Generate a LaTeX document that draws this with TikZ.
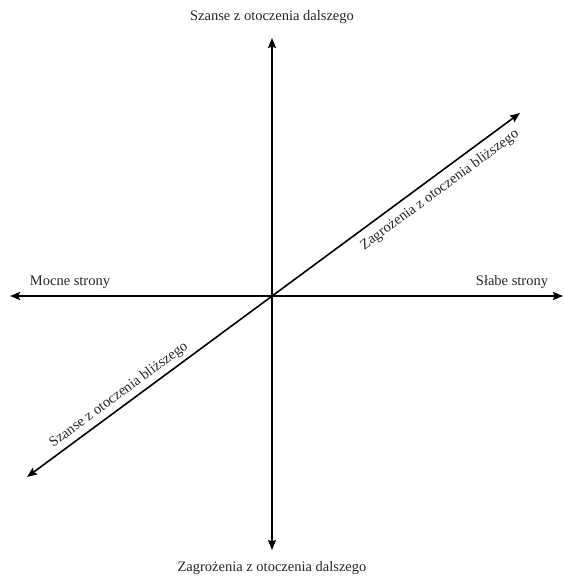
\documentclass[tikz,border=0pt]{standalone}
\usepackage{fontspec}
\setmainfont{Liberation Serif}
\usetikzlibrary{arrows.meta}
\tikzset{
  os/.style={line width=1.6pt, {Stealth[length=10pt,width=8pt,inset=1.5pt]}-{Stealth[length=10pt,width=8pt,inset=1.5pt]}},
  etykieta/.style={font=\fontsize{14.5}{17}\selectfont, text=black!85, inner sep=2pt}
}
\begin{document}
\begin{tikzpicture}[x=1pt, y=1pt]
    \useasboundingbox (-272,-282) rectangle (292,296);

    % końce osi
    \coordinate (O) at (0,0);
    \coordinate (gora) at (0,258);
    \coordinate (dol) at (0,-254);
    \coordinate (lewo) at (-262,0);
    \coordinate (prawo) at (291,0);
    \coordinate (skosD) at (-245,-181);
    \coordinate (skosG) at (248,183);

    % osie
    \draw[os] (dol) -- (gora);
    \draw[os] (lewo) -- (prawo);
    \draw[os] (skosD) --
        node[etykieta, sloped, pos=0.2, above=2pt] (sb) {Szanse z otoczenia bliższego}
        node[etykieta, sloped, pos=0.82, below=5pt] (zb) {Zagrożenia z otoczenia bliższego}
        (skosG);

    % opisy osi
    \node[etykieta] (sd) at (0,279) {Szanse z otoczenia dalszego};
    \node[etykieta] (zd) at (0,-272) {Zagrożenia z otoczenia dalszego};
    \node[etykieta] (ms) at (-202,14) {Mocne strony};
    \node[etykieta] (ss) at (240,14) {Słabe strony};

\end{tikzpicture}
\end{document}
